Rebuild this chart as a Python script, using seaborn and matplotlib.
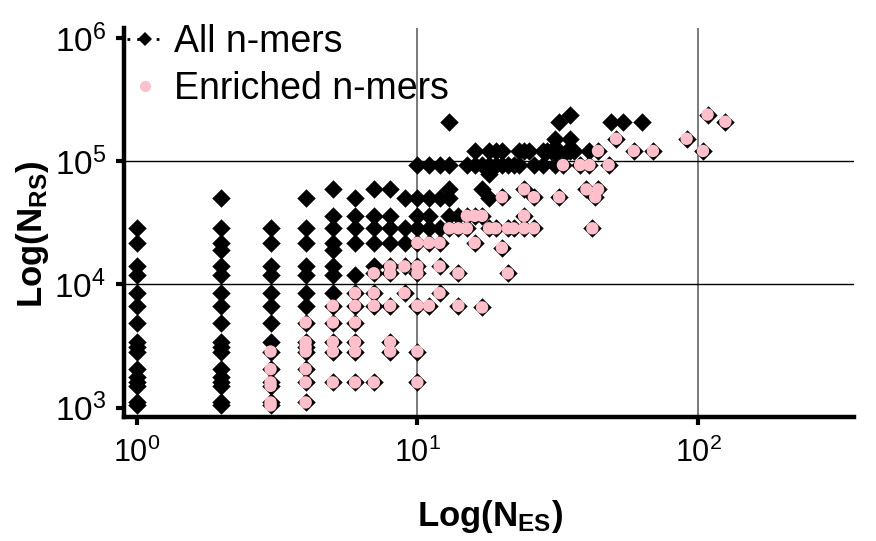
import math
import matplotlib
matplotlib.use("Agg")
import matplotlib.pyplot as plt
import seaborn as sns
import pandas as pd
from matplotlib.lines import Line2D
from matplotlib.ticker import FixedLocator, FuncFormatter, NullLocator

# ---------------- data ----------------
# N_RS levels and the N_ES values of the non-enriched n-mers on each level
all_levels = [239000, 209000, 152000, 121000, 93000, 79000, 59000, 50000,
              36000, 28500, 21700, 19000, 14000, 12000, 8500, 6700, 4900,
              3400, 3100, 2850, 2050, 1780, 1600, 1500, 1100, 1040]
all_nes = [
    [35],
    [13, 32, 49, 54, 63],
    [31, 35],
    [16, 18, 19, 20, 23, 24, 25, 28, 29, 30, 31, 32, 34, 35, 36, 41],
    [10, 11, 12, 13, 15, 16, 17, 18, 19, 20, 21, 22, 23, 26, 28, 31],
    [18],
    [5, 7, 8, 13, 17],
    [2, 4, 6, 9, 10, 11, 12, 13, 18],
    [5, 6, 7, 8, 10, 11, 13, 14],
    [1, 2, 3, 4, 5, 6, 7, 8, 9, 10, 11, 12],
    [1, 2, 3, 4, 5, 6, 7, 8, 9],
    [2, 5],
    [1, 2, 3, 4, 5, 7],
    [1, 2, 3, 4, 5, 6],
    [1, 2, 3, 4, 5],
    [1, 2, 3, 4],
    [1, 2, 3],
    [1, 2, 3],
    [1, 2],
    [1, 2],
    [1, 2],
    [1, 2],
    [1, 2],
    [1, 2],
    [1, 2],
    [1, 2],
]

# N_RS levels and the N_ES values of the enriched n-mers
enr_levels = [239000, 209000, 152000, 121000, 93000, 59000, 51000, 36000,
              28500, 21700, 19800, 14000, 12300, 8500, 6700, 6500, 4900,
              3400, 3100, 2850, 2050, 1600, 1500, 1100, 1040]
enr_nes = [
    [108],
    [125],
    [51, 91],
    [44, 59, 69, 104],
    [33, 38, 41, 48],
    [24, 40, 44],
    [20, 26, 32, 43],
    [15, 16, 17, 24],
    [13, 14, 15, 18, 19, 21, 22, 24, 26, 42],
    [10, 11, 12, 16],
    [20],
    [8, 9, 10, 12],
    [7, 8, 10, 14, 21],
    [6, 7, 9, 12],
    [5, 6, 7, 8, 10, 11, 14],
    [17],
    [4, 5, 6],
    [4, 5, 6, 8],
    [4],
    [3, 4, 5, 6, 8, 10],
    [3, 4],
    [3, 4, 5, 6, 7, 10],
    [3],
    [3, 4],
    [3],
]

x_ticks = [1, 10, 100]
y_ticks = [1e3, 1e4, 1e5, 1e6]
grid_x = [10, 100]
grid_y = [1e4, 1e5]
series_labels = ["All n-mers", "Enriched n-mers"]
x_label = r"Log(N$_{\mathbf{ES}}$)"
y_label = r"Log(N$_{\mathbf{RS}}$)"

# ---------------- build tables ----------------
rows = []
for lvl, xs in zip(all_levels, all_nes):
    for v in xs:
        rows.append((v, lvl))
enr_rows = []
for lvl, xs in zip(enr_levels, enr_nes):
    for v in xs:
        enr_rows.append((v, lvl))
df_enr = pd.DataFrame(enr_rows, columns=["NES", "NRS"])
df_all = pd.concat([pd.DataFrame(rows, columns=["NES", "NRS"]), df_enr],
                   ignore_index=True)

# ---------------- style ----------------
sns.set_style("ticks")
plt.rcParams["font.family"] = ["Liberation Sans", "DejaVu Sans"]
plt.rcParams["mathtext.fontset"] = "custom"
plt.rcParams["mathtext.rm"] = "Liberation Sans"
plt.rcParams["mathtext.bf"] = "Liberation Sans:bold"
plt.rcParams["mathtext.it"] = "Liberation Sans:italic"
plt.rcParams["text.color"] = "black"
plt.rcParams["axes.labelcolor"] = "black"

fig = plt.figure(figsize=(8.76, 5.41), dpi=100)
ax = fig.add_axes([124 / 876, 1 - 417 / 541, (854 - 124) / 876, (417 - 28) / 541])

for gx in grid_x:
    ax.axvline(gx, color="#707070", lw=1.3, zorder=0)
for gy in grid_y:
    ax.axhline(gy, color="black", lw=1.0, zorder=0)

sns.scatterplot(data=df_all, x="NES", y="NRS", ax=ax, marker="D", s=82,
                color="black", edgecolor="black", linewidth=0.3, zorder=3)
sns.scatterplot(data=df_enr, x="NES", y="NRS", ax=ax, marker="o", s=80,
                color="#FFC0CB", edgecolor="none", linewidth=0, zorder=4)

ax.set_xscale("log")
ax.set_yscale("log")
ax.set_xlim(0.902, 359)
ax.set_ylim(838, 1.205e6)

ax.xaxis.set_major_locator(FixedLocator(x_ticks))
ax.yaxis.set_major_locator(FixedLocator(y_ticks))
ax.xaxis.set_minor_locator(NullLocator())
ax.yaxis.set_minor_locator(NullLocator())

fmt = FuncFormatter(lambda v, p: r"$\mathregular{10^{%d}}$" % round(math.log10(v)))
ax.xaxis.set_major_formatter(fmt)
ax.yaxis.set_major_formatter(fmt)
ax.tick_params(axis="y", labelsize=24, direction="out", length=6, width=3,
               pad=7, colors="black")
ax.tick_params(axis="x", labelsize=22, direction="out", length=6, width=3,
               pad=9, colors="black")

sns.despine(ax=ax)
for sp in ["left", "bottom"]:
    ax.spines[sp].set_linewidth(3.2)
    ax.spines[sp].set_color("black")

ax.set_xlabel(x_label, fontsize=25, fontweight="bold", color="black")
ax.set_ylabel(y_label, fontsize=25, fontweight="bold", color="black")
ax.xaxis.set_label_coords(0.501, -0.255)
ax.xaxis.label.set_va("center")
ax.yaxis.set_label_coords(-0.126, 0.47)
ax.yaxis.label.set_va("center")

handles = [
    Line2D([], [], color="black", marker="D", linestyle=(0, (1, 2.5)), lw=2,
           markersize=7, markeredgewidth=0),
    Line2D([], [], color="#FFC0CB", marker="o", linestyle="none",
           markersize=8, markeredgewidth=0),
]
leg = ax.legend(handles, series_labels, loc="upper left",
                bbox_to_anchor=(127 / 876, 1 - 24 / 541),
                bbox_transform=fig.transFigure, frameon=False, fontsize=27,
                handlelength=0.95, handletextpad=0.3, borderpad=0,
                borderaxespad=0, labelspacing=0.3)
for t in leg.get_texts():
    t.set_color("black")

fig.savefig("out.png", dpi=100)
